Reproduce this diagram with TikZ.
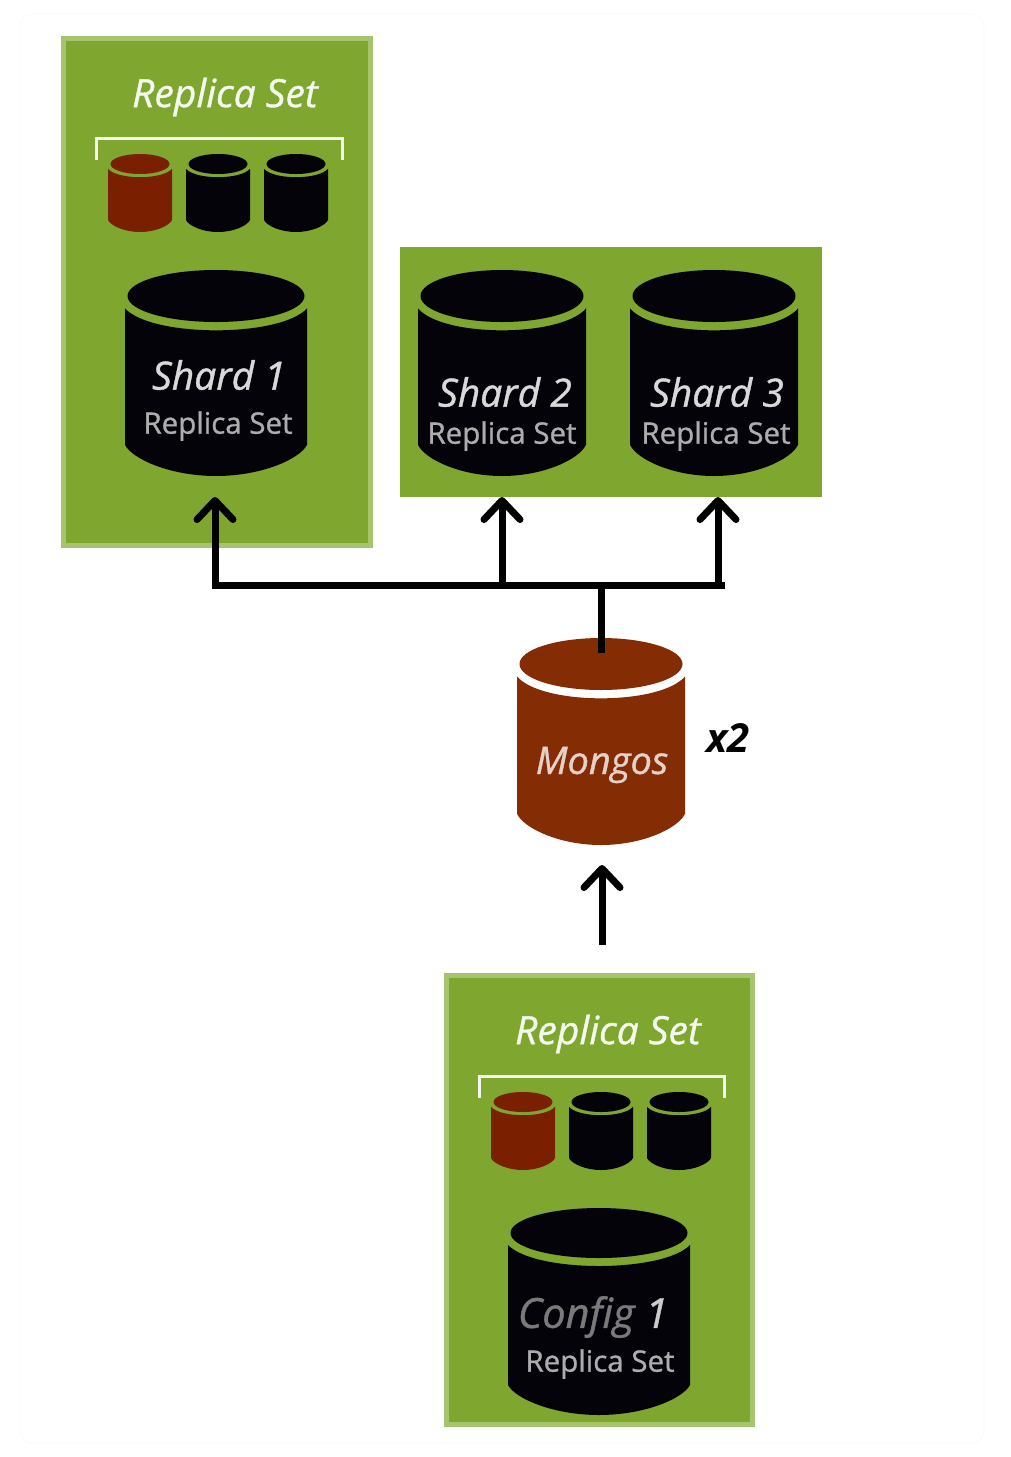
\documentclass[tikz,border=0pt]{standalone}
\usepackage{fontspec}
\setmainfont{Open Sans}
\newfontfamily\heavyfont[FakeBold=1]{Open Sans}
\usetikzlibrary{arrows.meta}

\definecolor{panelgreen}{HTML}{7FA62E}
\definecolor{paneledge}{HTML}{A6C46E}
\definecolor{mongored}{HTML}{842C03}
\definecolor{smallred}{HTML}{7A2000}
\definecolor{dbblack}{HTML}{05030A}

\tikzset{
  panel/.style={fill=panelgreen},
  edgepanel/.style={panel, draw=paneledge, line width=5},
  link/.style={line width=7, color=black},
  arrowlink/.style={link, -{Straight Barb[round, length=19, width=36, line width=7]}},
  bracket/.style={draw=white!92!panelgreen, line width=3},
  settitle/.style={text=white!92!panelgreen, font=\heavyfont\itshape\fontsize{39}{39}\selectfont},
  dbname/.style={text=white!85!black, font=\heavyfont\itshape\fontsize{39}{39}\selectfont},
  dbsub/.style={text=white!68!black, font=\heavyfont\fontsize{29.5}{29.5}\selectfont},
}

% cx, top, bottom, half width, ellipse height, fill
\newcommand{\dbcyl}[6]{
  \pgfmathsetmacro{\ymid}{#2+#5}
  \pgfmathsetmacro{\yshoulder}{#2+1.48*#5}
  \pgfmathsetmacro{\ylip}{#2+2.6*#5}
  \pgfmathsetmacro{\yside}{#3-1.2*#5}
  \pgfmathsetmacro{\xl}{#1-#4}
  \pgfmathsetmacro{\xr}{#1+#4}
  \pgfmathsetmacro{\rtop}{#4-2.5}
  \fill[#6] (\xl,\yshoulder) -- (\xl,\yside)
    .. controls (\xl+0.08*#4,\yside+0.55*#5) and (#1-0.5*#4,#3) .. (#1,#3)
    .. controls (#1+0.5*#4,#3) and (\xr-0.08*#4,\yside+0.55*#5) .. (\xr,\yside)
    -- (\xr,\yshoulder)
    .. controls (\xr-0.3*#4,\ylip) and (\xl+0.3*#4,\ylip) .. (\xl,\yshoulder) -- cycle;
  \fill[#6] (#1,\ymid) ellipse [x radius=\rtop, y radius=#5];
}

\begin{document}
\begin{tikzpicture}[x=1pt, y=-1pt]
    \useasboundingbox (0,0) rectangle (1010,1457);
    \fill[white] (0,0) rectangle (1010,1457);
    \draw[black!3] (32,14) -- (972,14) arc (-90:0:12) -- (984,1431) arc (0:90:12)
      -- (32,1443) arc (90:180:12) -- (20,26) arc (180:270:12) -- cycle;

    % panels
    \node[edgepanel, minimum width=307, minimum height=507, inner sep=0] (shardset) at (217,292) {};
    \node[panel, minimum width=422, minimum height=250, inner sep=0] (shards) at (611,372) {};
    \node[edgepanel, minimum width=306, minimum height=449, inner sep=0] (configset) at (599.5,1200) {};

    % shard 1
    \node[settitle] (title1) at (225,97) {Replica Set};
    \draw[bracket] (96,160) -- (96,138) -- (342,138) -- (342,160);
    \dbcyl{140}{154}{232}{32}{10}{smallred}
    \dbcyl{218}{154}{232}{32}{10}{dbblack}
    \dbcyl{296}{154}{232}{32}{10}{dbblack}
    \dbcyl{216}{270}{476}{91}{26}{dbblack}
    \node[dbname] (name1) at (219,375) {Shard 1};
    \node[dbsub] (sub1) at (218,426) {Replica Set};

    % shards 2 and 3
    \dbcyl{502}{270}{476}{84}{26}{dbblack}
    \node[dbname] (name2) at (505,392) {Shard 2};
    \node[dbsub] (sub2) at (502,436) {Replica Set};
    \dbcyl{714}{270}{476}{84}{26}{dbblack}
    \node[dbname] (name3) at (717,392) {Shard 3};
    \node[dbsub] (sub3) at (716,436) {Replica Set};

    % mongos
    \dbcyl{601}{638}{845}{84}{26}{mongored}
    \node[text=white!78!mongored, font=\heavyfont\itshape\fontsize{38}{38}\selectfont] (mongos) at (602,765) {Mongos};
    \node[font=\bfseries\itshape\fontsize{40}{40}\selectfont] (times) at (728,738) {x2};

    % config
    \node[settitle] (title4) at (608,1034) {Replica Set};
    \draw[bracket] (479,1098) -- (479,1076) -- (724,1076) -- (724,1098);
    \dbcyl{523}{1092}{1170}{32}{10}{smallred}
    \dbcyl{601}{1092}{1170}{32}{10}{dbblack}
    \dbcyl{679}{1092}{1170}{32}{10}{dbblack}
    \dbcyl{599}{1208}{1415}{91}{25}{dbblack}
    \node[text=black!52, font=\heavyfont\itshape\fontsize{41.5}{41.5}\selectfont] (name4) at (593,1317) {Config \textcolor{white!80!black}{1}};
    \node[dbsub] (sub4) at (600,1364) {Replica Set};

    % links
    \coordinate (busleft) at (212,585);
    \coordinate (busright) at (725,585);
    \coordinate (bus1) at (215,585);
    \coordinate (bus2) at (502,585);
    \coordinate (bus3) at (718,585);
    \coordinate (busmid) at (601,585);
    \coordinate (in1) at (215,497);
    \coordinate (in2) at (502,497);
    \coordinate (in3) at (718,497);
    \coordinate (mongostop) at (601,653);
    \coordinate (configout) at (602,945);
    \coordinate (mongosin) at (602,865);
    \draw[link] (busleft) -- (busright);
    \draw[link] (busmid) -- (mongostop);
    \draw[arrowlink] (bus1) -- (in1);
    \draw[arrowlink] (bus2) -- (in2);
    \draw[arrowlink] (bus3) -- (in3);
    \draw[arrowlink] (configout) -- (mongosin);
  \end{tikzpicture}
\end{document}
